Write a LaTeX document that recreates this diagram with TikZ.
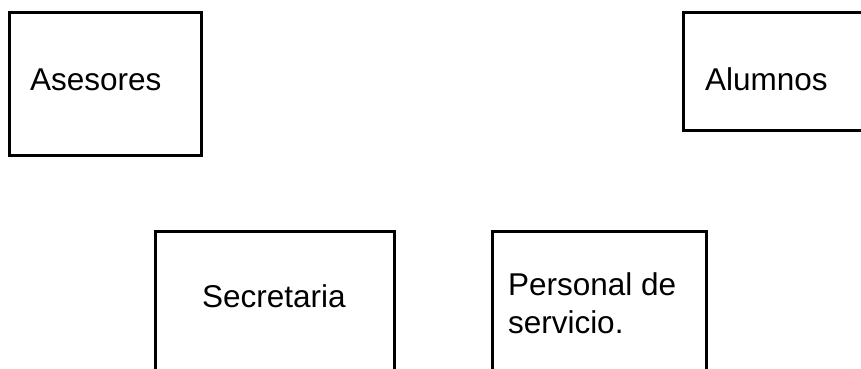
\documentclass[tikz,border=0pt]{standalone}
\usepackage{fontspec}
\setmainfont{Liberation Sans}
\begin{document}
\begin{tikzpicture}[x=1pt,y=-1pt,
  box/.style={draw=black, line width=3pt, outer sep=0pt, inner sep=0pt, anchor=north west},
  lbl/.style={font=\fontsize{31.5}{38}\selectfont, inner sep=0pt, outer sep=0pt, anchor=base west, align=left}]
\useasboundingbox (0,0) rectangle (861,369);
\begin{scope}
\clip (0,0) rectangle (861,369);
\node[box, minimum width=192pt, minimum height=142.5pt] (asesores) at (9.5,12.5) {};
\node[box, minimum width=220pt, minimum height=117pt] (alumnos) at (683,13) {};
\node[box, minimum width=238.5pt, minimum height=180pt] (secretaria) at (155.5,231.5) {};
\node[box, minimum width=214pt, minimum height=180pt] (personal) at (492,231.5) {};
\end{scope}
\node[lbl] (tasesores) at (30,90) {Asesores};
\node[lbl] (talumnos) at (705,90) {Alumnos};
\node[lbl] (tsecretaria) at (202,307) {Secretaria};
\node[lbl] (tpersonal) at (508,333) {Personal de\\servicio.};
\end{tikzpicture}
\end{document}
